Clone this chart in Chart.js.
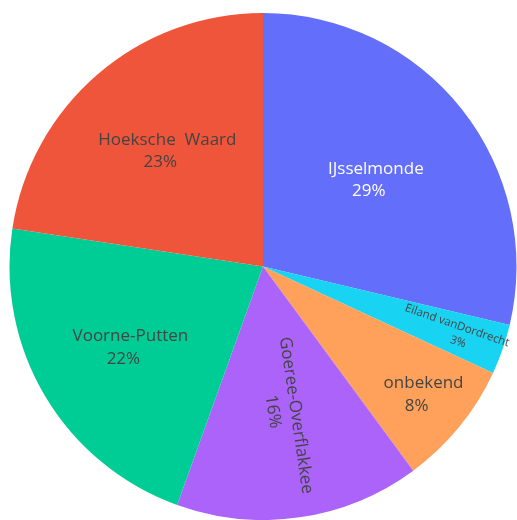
<!DOCTYPE html>
<html>
<head>
<meta charset="utf-8">
<script src="https://cdn.jsdelivr.net/npm/chart.js@4"></script>
<style>
  html, body { margin: 0; padding: 0; background: #fff; }
  #wrap { width: 517px; height: 520px; }
</style>
</head>
<body>
<div id="wrap"><canvas id="pie-chart-canvas"></canvas></div>
<script>
const regions = ['IJsselmonde', 'Eiland vanDordrecht', 'onbekend', 'Goeree-Overflakkee', 'Voorne-Putten', 'Hoeksche  Waard'];
const shares = [28.7, 3.2, 8.0, 15.6, 21.9, 22.6];
const sliceColors = ['#636efa', '#19d3f3', '#FFA15A', '#ab63fa', '#00cc96', '#EF553B'];

// where the text sits inside each slice (fraction of radius), and whether it follows the radius
const labelRadius = [0.55, 0.80, 0.80, 0.60, 0.625, 0.60];
const labelRadial = [false, true, false, true, false, false];
const labelSize = [17, 11.5, 17, 17, 17, 17];
const pctShift = [-7, 6, -7, -7, -7, -7];

const sliceLabels = {
    id: 'sliceLabels',
    afterDatasetsDraw(chart) {
        const ctx = chart.ctx;
        const total = shares.reduce((a, b) => a + b, 0);
        chart.getDatasetMeta(0).data.forEach(function(arc, i) {
            const p = arc.getProps(['x', 'y', 'startAngle', 'endAngle', 'outerRadius'], true);
            const mid = (p.startAngle + p.endAngle) / 2;
            const r = p.outerRadius * labelRadius[i];
            const size = labelSize[i];
            ctx.save();
            ctx.translate(p.x + Math.cos(mid) * r, p.y + Math.sin(mid) * r);
            if (labelRadial[i]) ctx.rotate(mid);
            else ctx.translate(3.5, 0);
            ctx.font = size + 'px "Open Sans"';
            ctx.fillStyle = i === 0 ? '#ffffff' : '#444444';
            ctx.textAlign = 'center';
            ctx.textBaseline = 'middle';
            const lh = size * 1.32;
            ctx.fillText(regions[i], 0, -lh / 2);
            ctx.fillText(Math.round(shares[i] / total * 100) + '%', pctShift[i], lh / 2);
            ctx.restore();
        });
    }
};

new Chart(document.getElementById('pie-chart-canvas'), {
    type: 'pie',
    data: {
        labels: regions,
        datasets: [{
            data: shares,
            backgroundColor: sliceColors,
            borderWidth: 0
        }]
    },
    options: {
        responsive: true,
        maintainAspectRatio: false,
        animation: false,
        layout: { padding: { left: 9, right: 0, top: 13, bottom: 0 } },
        plugins: {
            legend: { display: false },
            tooltip: { enabled: false }
        }
    },
    plugins: [sliceLabels]
});
</script>
</body>
</html>
